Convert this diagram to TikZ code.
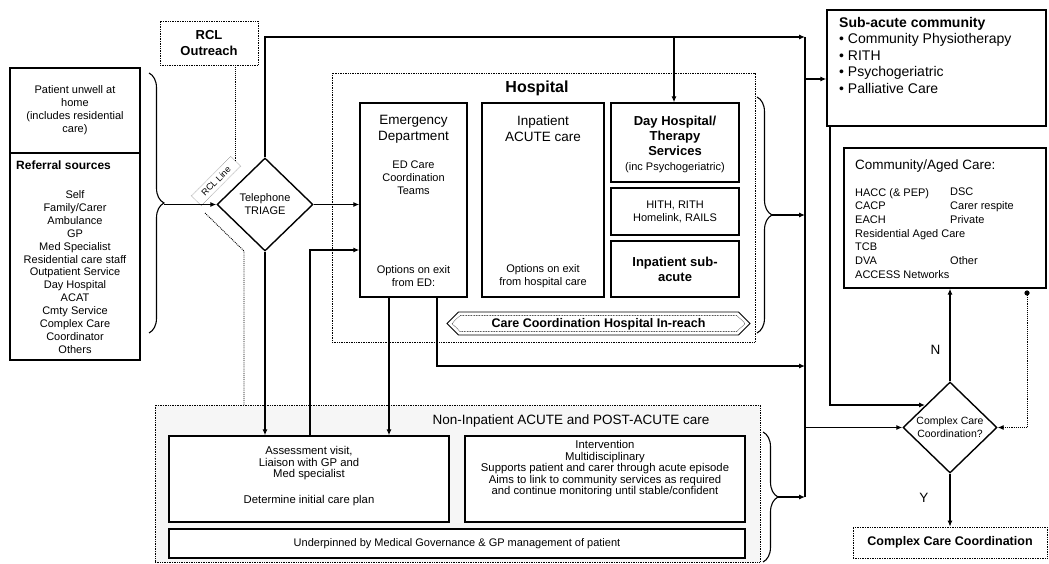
\documentclass[tikz,border=0pt]{standalone}
\usepackage{fontspec}
\setmainfont{Liberation Sans}
\usetikzlibrary{arrows.meta,shapes.geometric,shapes.symbols,decorations.pathreplacing}
\begin{document}
\begin{tikzpicture}[x=1pt,y=-1pt,
  boxx/.style={draw,line width=1.4pt,inner sep=0pt},
  dotbox/.style={draw,densely dotted,line width=0.7pt,inner sep=0pt},
  conn/.style={line width=1.1pt},
  arr/.style={conn,-{Latex[length=6pt,width=5pt]}},
  dconn/.style={densely dotted,line width=0.9pt},
  tx/.style={align=center,inner sep=0pt},
  fnine/.style={font=\fontsize{9}{10.5}\selectfont},
  ften/.style={font=\fontsize{11.3}{11.5}\selectfont},
  feleven/.style={font=\fontsize{11}{13}\selectfont},
  fbig/.style={font=\fontsize{13.5}{16}\selectfont},
  fbigb/.style={font=\bfseries\fontsize{13}{15}\selectfont},
  brc/.style={decorate,decoration={brace,amplitude=15pt},conn}
]
\useasboundingbox (0,0) rectangle (1049,564);

% containers
\node[dotbox,minimum width=423pt,minimum height=269pt] (hosp) at (543.5,207.5) {};
\node[tx,font=\bfseries\fontsize{16}{19}\selectfont] (hospt) at (537,88) {Hospital};
\node[dotbox,fill=gray!7,minimum width=605pt,minimum height=157pt] (noninp) at (457.5,483.5) {};
\node[tx,fbig] (noninpt) at (571,421) {Non-Inpatient ACUTE and POST-ACUTE care};

% left column
\node[dotbox,minimum width=98pt,minimum height=44pt,align=center,font=\bfseries\fontsize{13}{16}\selectfont] (rcl) at (209,43) {RCL\\Outreach};
\node[boxx,minimum width=130pt,minimum height=85pt,align=center,feleven] (pat) at (75,110.5) {Patient unwell at\\home\\(includes residential\\care)};
\node[boxx,minimum width=130pt,minimum height=207pt] (refb) at (75,256.5) {};
\node[anchor=west,inner sep=0pt,font=\bfseries\fontsize{12}{14}\selectfont] (reft) at (16,165) {Referral sources};
\node[tx,font=\fontsize{11}{12.9}\selectfont] (refl) at (75,272) {Self\\Family/Carer\\Ambulance\\GP\\Med Specialist\\Residential care staff\\Outpatient Service\\Day Hospital\\ACAT\\Cmty Service\\Complex Care\\Coordinator\\Others};

% triage
\node[draw,diamond,line width=1.4pt,minimum width=96pt,minimum height=93pt,inner sep=0pt] (triage) at (265,204.5) {};
\node[tx,feleven] (triaget) at (triage.center) {Telephone\\TRIAGE};
\node[draw,densely dotted,rotate=45,minimum width=56pt,minimum height=14pt,inner sep=0pt,fnine] (rclline) at (216,181) {RCL Line};

% hospital boxes
\node[boxx,minimum width=107pt,minimum height=194pt] (ed) at (413.5,200) {};
\node[tx,fbig] (edt) at (413.5,129) {Emergency\\Department};
\node[tx,feleven] (edcc) at (413.5,178) {ED Care\\Coordination\\Teams};
\node[tx,feleven] (edopt) at (413.5,276) {Options on exit\\from ED:};

\node[boxx,minimum width=122pt,minimum height=194pt] (ia) at (543,200) {};
\node[tx,fbig] (iat) at (543,129) {Inpatient\\ACUTE care};
\node[tx,feleven] (iaopt) at (543,276) {Options on exit\\from hospital care};

\node[boxx,minimum width=128pt,minimum height=79pt] (dh) at (675,142.5) {};
\node[tx,fbigb] (dht) at (675,136) {Day Hospital/\\Therapy\\Services};
\node[tx,feleven] (dhs) at (675,168) {(inc Psychogeriatric)};
\node[boxx,minimum width=128pt,minimum height=47pt,align=center,feleven] (hith) at (675,211.5) {HITH, RITH\\Homelink, RAILS};
\node[boxx,minimum width=128pt,minimum height=56pt,align=center,fbigb] (isa) at (675,269) {Inpatient sub-\\acute};

\node[draw,signal,signal to=east and west,line width=0.8pt,minimum width=303pt,minimum height=23pt,inner sep=0pt] (inreach) at (598.5,323.5) {};
\node[draw,signal,signal to=east and west,densely dotted,line width=0.6pt,minimum width=293pt,minimum height=16pt,inner sep=0pt] (inreachin) at (598.5,323.5) {};
\node[tx,fill=white,font=\bfseries\fontsize{12.5}{15}\selectfont] (inreacht) at (598.5,324) {Care Coordination Hospital In-reach};

% non-inpatient boxes
\node[boxx,fill=white,minimum width=280pt,minimum height=86pt] (assess) at (309,479) {};
\node[tx,ften] (assesst) at (309,476) {Assessment visit,\\Liaison with GP and\\Med specialist\\[14pt]Determine initial care plan};
\node[boxx,fill=white,minimum width=280pt,minimum height=86pt] (interv) at (605,479) {};
\node[tx,ften] (intervt) at (605,469) {Intervention\\Multidisciplinary\\Supports patient and carer through acute episode\\Aims to link to community services as required\\and continue monitoring until stable/confident};
\node[boxx,fill=white,minimum width=576pt,minimum height=29pt,feleven] (under) at (457,543.5) {Underpinned by Medical Governance \& GP management of patient};

% right column
\node[boxx,minimum width=219pt,minimum height=116pt] (subac) at (936.5,68) {};
\node[anchor=north west,align=left,inner sep=0pt,font=\fontsize{14}{16.5}\selectfont] (subact) at (839,17) {\textbf{Sub-acute community}\\\textbullet\ Community Physiotherapy\\\textbullet\ RITH\\\textbullet\ Psychogeriatric\\\textbullet\ Palliative Care};

\node[boxx,minimum width=202pt,minimum height=140pt] (comm) at (945,218) {};
\node[anchor=west,inner sep=0pt,fbig] (commt) at (855,166) {Community/Aged Care:};
\node[anchor=north west,align=left,inner sep=0pt,font=\fontsize{11}{13.7}\selectfont] (comml) at (855,188) {HACC (\& PEP)\\CACP\\EACH\\Residential Aged Care\\TCB\\DVA\\ACCESS Networks};
\node[anchor=north west,align=left,inner sep=0pt,font=\fontsize{11}{13.7}\selectfont] (commr) at (950,188) {DSC\\Carer respite\\Private\\\mbox{}\\\mbox{}\\Other};

\node[draw,diamond,line width=1.4pt,minimum width=94pt,minimum height=91pt,inner sep=0pt,align=center,font=\fontsize{10.5}{13}\selectfont] (ccd) at (950,427.5) {Complex Care\\Coordination?};
\node[dotbox,minimum width=194pt,minimum height=31pt,font=\bfseries\fontsize{12.5}{15}\selectfont] (ccc) at (950,542.5) {Complex Care Coordination};

% coordinates
\coordinate (lbt) at (164,204.5);
\coordinate (topl) at (265,37);
\coordinate (bust) at (805,37);
\coordinate (busb) at (805,497);
\coordinate (dhin) at (674,37);
\coordinate (aup) at (310,250);
\coordinate (edda) at (389,0);
\coordinate (eddb) at (437,366);
\coordinate (hbt) at (772,215);
\coordinate (nbt) at (778,497);
\coordinate (bsa) at (805,79);
\coordinate (sab) at (830,405);
\coordinate (ccdin) at (925,405);
\coordinate (dots) at (1027,293);
\coordinate (rla) at (205,213);
\coordinate (rlb) at (244,251);

% connectors
\draw[brc] (149,73) -- (149,333);
\draw[arr] (lbt) -- (triage.west);
\draw[arr] (triage.north) -- (topl) -- (bust);
\draw[arr] (dhin) -- (dhin |- dh.north);
\draw[arr] (triage.east) -- (triage.east -| ed.west);
\draw[arr] (triage.south) -- (triage.south |- assess.north);
\draw[arr] (aup |- assess.north) -- (aup) -- (aup -| ed.west);
\draw[arr] (edda |- ed.south) -- (edda |- assess.north);
\draw[arr] (eddb |- ed.south) -- (eddb) -- (eddb -| bust);
\draw[brc] (757,97) -- (757,333);
\draw[arr] (hbt) -- (hbt -| bust);
\draw[brc] (763,432) -- (763,562);
\draw[arr] (nbt) -- (busb);
\draw[conn] (bust) -- (busb);
\draw[arr] (bsa) -- (bsa -| subac.west);
\draw[arr] (ccd.west -| bust) -- (ccd.west);
\draw[arr] (sab |- subac.south) -- (sab) -- (ccdin);
\draw[arr] (ccd.north) -- (ccd.north |- comm.south) node[pos=0.34,left=9pt,inner sep=0pt,fbig] (nlab) {N};
\draw[arr] (ccd.south) -- (ccd.south |- ccc.north) node[pos=0.46,left=21pt,inner sep=0pt,fbig] (ylab) {Y};
\fill (dots) circle (2.6pt);
\draw[dconn,-{Latex[length=6pt,width=5pt]}] (dots) -- (dots |- ccd.east) -- (ccd.east);
\draw[dconn] (rcl.south -| rclline.east) -- (rclline.east);
\draw[dconn] (rla) -- (rlb) -- (rlb |- noninp.north);
\end{tikzpicture}
\end{document}
